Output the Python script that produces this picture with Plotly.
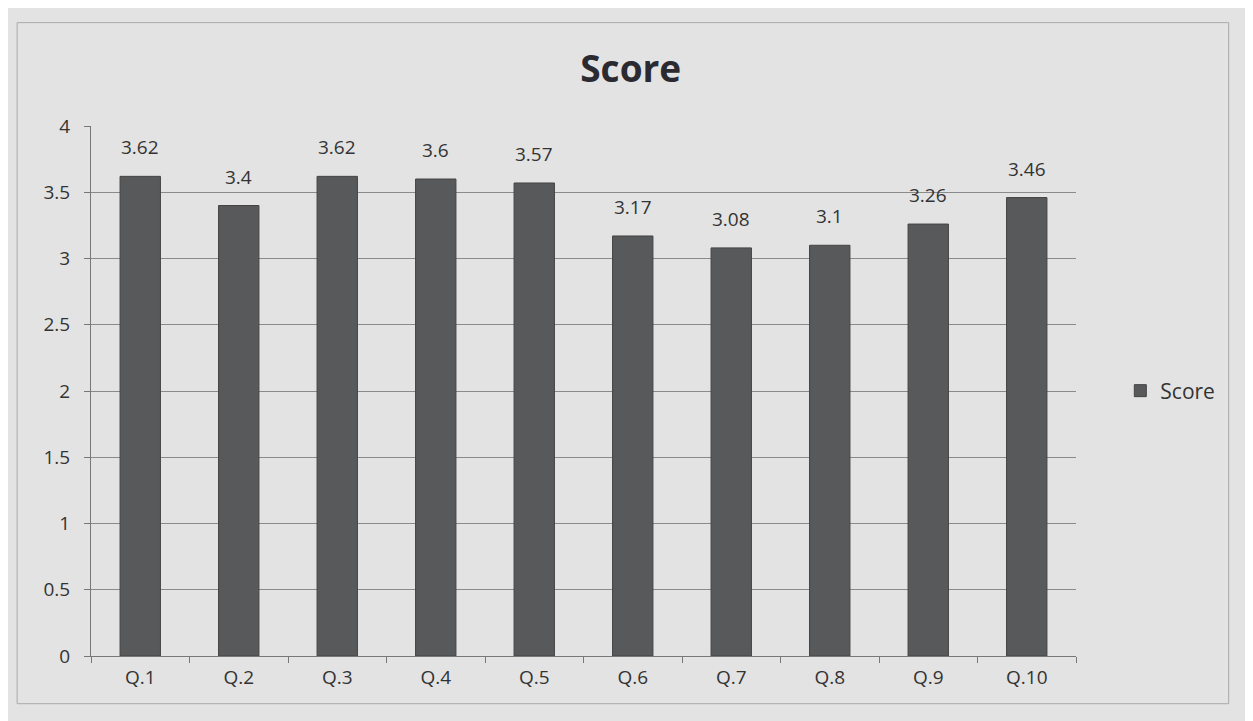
import plotly.graph_objects as go

categories = ["Q.1", "Q.2", "Q.3", "Q.4", "Q.5", "Q.6", "Q.7", "Q.8", "Q.9", "Q.10"]
scores = [3.62, 3.4, 3.62, 3.6, 3.57, 3.17, 3.08, 3.1, 3.26, 3.46]
y_ticks = [0, 0.5, 1, 1.5, 2, 2.5, 3, 3.5, 4]
y_tick_labels = ["0", "0.5", "1", "1.5", "2", "2.5", "3", "3.5", "4"]

FONT = "Open Sans"

fig = go.Figure()
fig.add_trace(go.Bar(
    x=categories, y=scores, name="Score",
    marker=dict(color="#58595b", line=dict(color="#444", width=1)),
    width=0.41,
))

for c, v in zip(categories, scores):
    fig.add_annotation(x=c, y=v, text=f"{v:g}", showarrow=False,
                       yanchor="bottom", yshift=14,
                       font=dict(size=19, color="#333", family=FONT))

fig.update_layout(
    width=1253, height=721,
    paper_bgcolor="#e3e3e3", plot_bgcolor="#e3e3e3",
    margin=dict(l=83, r=185, t=118, b=73),
    title=dict(text="<b>Score</b>", x=0.497, xanchor="center", y=0.915, yanchor="middle",
               font=dict(size=37, color="#2a2a30", family=FONT)),
    showlegend=True,
    legend=dict(x=1.045, y=0.5, xanchor="left", yanchor="middle",
                font=dict(size=21, color="#333", family=FONT),
                bgcolor="rgba(0,0,0,0)"),
    xaxis=dict(showgrid=False, showline=True, linecolor="#777", linewidth=1,
               ticks="outside", ticklen=6, tickcolor="#777", tickson="boundaries",
               ticklabelstandoff=4,
               tickfont=dict(size=19, color="#333", family=FONT)),
    yaxis=dict(range=[0, 4], tickvals=y_ticks, ticktext=y_tick_labels,
               showgrid=True, gridcolor="#8a8a8a", gridwidth=1,
               showline=True, linecolor="#777", linewidth=1,
               ticks="outside", ticklen=6, tickcolor="#777", zeroline=False,
               ticklabelstandoff=10,
               tickfont=dict(size=19, color="#333", family=FONT)),
    shapes=[dict(type="rect", xref="paper", yref="paper", x0=-0.075, x1=1.155, y0=-0.09, y1=1.195,
                 line=dict(color="#aaa", width=1))],
)

fig.write_html("out.html")
